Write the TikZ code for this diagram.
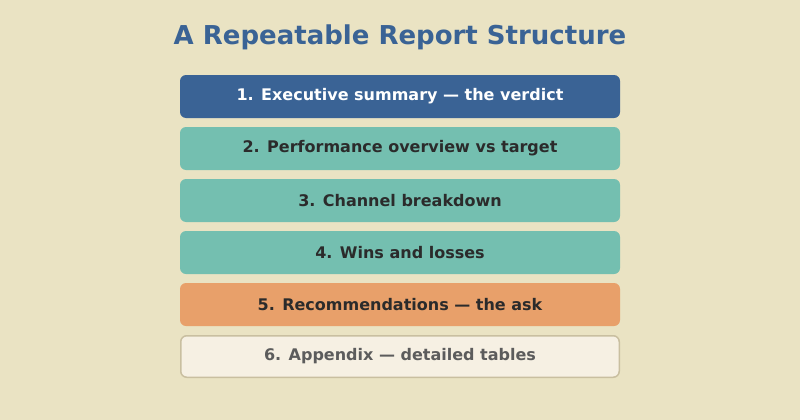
\documentclass[tikz,border=0pt]{standalone}
\usepackage{fontspec}
\setmainfont{DejaVu Sans}
\definecolor{bg}{HTML}{EAE3C3}
\definecolor{blu}{HTML}{3A6395}
\definecolor{teal}{HTML}{74BFB0}
\definecolor{ora}{HTML}{E8A06A}
\definecolor{cream}{HTML}{F6F0E3}
\definecolor{edge}{HTML}{C9BFA0}
\definecolor{dark}{HTML}{2B2B2B}
\definecolor{grey}{HTML}{5C5C5C}
\begin{document}
\begin{tikzpicture}[x=1pt,y=-1pt,
  sect/.style={rounded corners=6pt,minimum width=440pt,minimum height=43pt,inner sep=0pt,
    font=\fontsize{16}{19}\selectfont\bfseries,text=dark},
  blubox/.style={sect,fill=blu,text=white},
  tealbox/.style={sect,fill=teal},
  orabox/.style={sect,fill=ora},
  lastbox/.style={sect,fill=cream,draw=edge,line width=1.5pt,minimum width=438.5pt,minimum height=41.5pt,text=grey}]
\fill[bg] (0,0) rectangle (800,420);
\useasboundingbox (0,0) rectangle (800,420);
\node[font=\fontsize{26}{30}\selectfont\bfseries,text=blu] (title) at (400,37) {A Repeatable Report Structure};
\node[blubox] (s1) at (400,96.5) {1. Executive summary — the verdict};
\node[tealbox] (s2) at (400,148.5) {2. Performance overview vs target};
\node[tealbox] (s3) at (400,200.5) {3. Channel breakdown};
\node[tealbox] (s4) at (400,252.5) {4. Wins and losses};
\node[orabox] (s5) at (400,304.5) {5. Recommendations — the ask};
\node[lastbox] (s6) at (400,356.5) {6. Appendix — detailed tables};
\end{tikzpicture}
\end{document}
